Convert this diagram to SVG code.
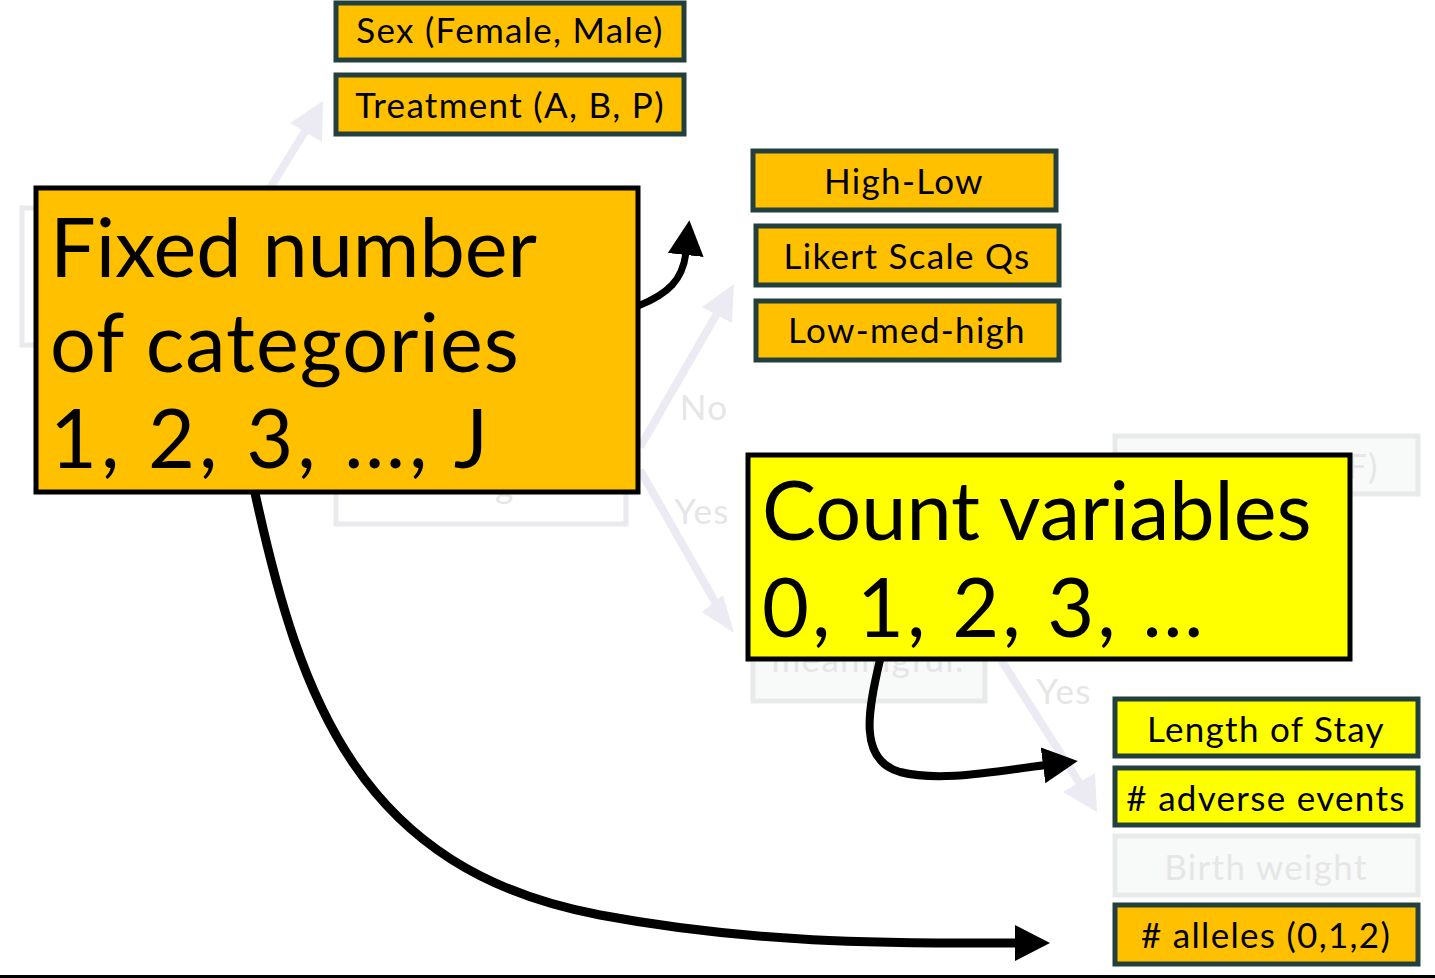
<svg xmlns="http://www.w3.org/2000/svg" width="1435" height="978" viewBox="0 0 1435 978">
<style>
text{font-family:Lato,"Open Sans","Liberation Sans",sans-serif;}
.fb{fill:#ffffff;stroke:#e9e9ee;stroke-width:5;}
.fg{fill:#f8f9f9;stroke:#e8eaea;stroke-width:5;}
.ft{fill:#e6e6e6;font-size:35px;letter-spacing:1.3px;}
.fa{fill:none;stroke:#ecebf3;stroke-width:8;}
.ah{fill:#ecebf3;}
.ob{fill:#ffc000;stroke:#23403f;stroke-width:5;}
.yb{fill:#ffff00;stroke:#23403f;stroke-width:5;}
.st{fill:#000;font-size:35px;text-anchor:middle;letter-spacing:1.3px;}
.big{fill:#000;font-size:81px;}
.con{fill:none;stroke:#000;}
</style>
<defs>
<marker id="blk" markerUnits="userSpaceOnUse" markerWidth="40" markerHeight="40" refX="3" refY="18" orient="auto">
<path d="M0,0 L35,18 L0,36 z" fill="#000"/>
</marker>
</defs>
<rect width="1435" height="978" fill="#fff"/>
<g id="faded">
<rect class="fb" x="22" y="208" width="300" height="137"/>
<rect class="fb" x="336" y="400" width="290" height="124"/>
<text class="ft" x="495" y="498">g</text>
<rect class="fg" x="1115" y="436" width="303" height="58"/>
<text class="ft" x="1347" y="479">F)</text>
<rect class="fg" x="753" y="560" width="232" height="141"/>
<text class="ft" x="868" y="672" text-anchor="middle">meaningful.</text>
<rect class="fg" x="1115" y="836" width="303" height="59"/>
<text class="ft" x="1266" y="880" text-anchor="middle">Birth weight</text>
<path class="fa" d="M270,188 L312,120"/>
<path class="ah" d="M323,101 L290,123 L322,142 z"/>
<path class="fa" d="M640,447 L722,305"/>
<path class="ah" d="M734,284 L702,307 L732,323 z"/>
<path class="fa" d="M640,470 L722,614"/>
<path class="ah" d="M734,633 L702,612 L723,595 z"/>
<text class="ft" x="704" y="420" text-anchor="middle">No</text>
<text class="ft" x="702" y="524" text-anchor="middle">Yes</text>
<path class="fa" d="M1001,660 L1084,790"/>
<path class="ah" d="M1097,812 L1063,792 L1095,773 z"/>
<text class="ft" x="1064" y="704" text-anchor="middle">Yes</text>
</g>
<g id="sex"><rect class="ob" x="336" y="3" width="348" height="57"/><text class="st" x="510" y="43">Sex (Female, Male)</text></g>
<g id="treatment"><rect class="ob" x="336" y="75" width="348" height="59"/><text class="st" x="510" y="118">Treatment (A, B, P)</text></g>
<g id="highlow"><rect class="ob" x="753" y="151" width="303" height="59"/><text class="st" x="904" y="194">High-Low</text></g>
<g id="likert"><rect class="ob" x="756" y="226" width="303" height="59"/><text class="st" x="907" y="269">Likert Scale Qs</text></g>
<g id="lowmedhigh"><rect class="ob" x="756" y="301" width="303" height="59"/><text class="st" x="907" y="343">Low-med-high</text></g>
<g id="los"><rect class="yb" x="1115" y="699" width="303" height="57"/><text class="st" x="1266" y="742">Length of Stay</text></g>
<g id="adverse"><rect class="yb" x="1115" y="768" width="303" height="57"/><text class="st" x="1266" y="811">#&#160;adverse events</text></g>
<g id="alleles"><rect class="ob" x="1115" y="905" width="303" height="59"/><text class="st" x="1266" y="948">#&#160;alleles (0,1,2)</text></g>
<g id="fixed">
<rect x="36" y="188" width="602" height="304" fill="#ffc000" stroke="#000" stroke-width="5"/>
<text class="big" x="50" y="277">Fixed number</text>
<text class="big" x="50" y="372" letter-spacing="1">of categories</text>
<text class="big" x="50" y="468" letter-spacing="4">1, 2, 3, …, J</text>
</g>
<g id="count">
<rect x="748" y="455" width="602" height="204" fill="#ffff00" stroke="#000" stroke-width="5"/>
<text class="big" x="762" y="540">Count variables</text>
<text class="big" x="762" y="637" letter-spacing="3">0, 1, 2, 3, …</text>
</g>
<g id="connectors">
<path class="con" stroke-width="7" d="M638,306 C668,294 683,280 686,252" marker-end="url(#blk)"/>
<path class="con" stroke-width="8" d="M880,660 C868,710 858,760 900,772 C940,782 990,772 1046,765" marker-end="url(#blk)"/>
<path class="con" stroke-width="9" d="M255,493 C300,700 360,870 600,915 C760,945 900,943 1018,943" marker-end="url(#blk)"/>
</g>
<rect x="0" y="975" width="1435" height="3" fill="#000"/>
</svg>
